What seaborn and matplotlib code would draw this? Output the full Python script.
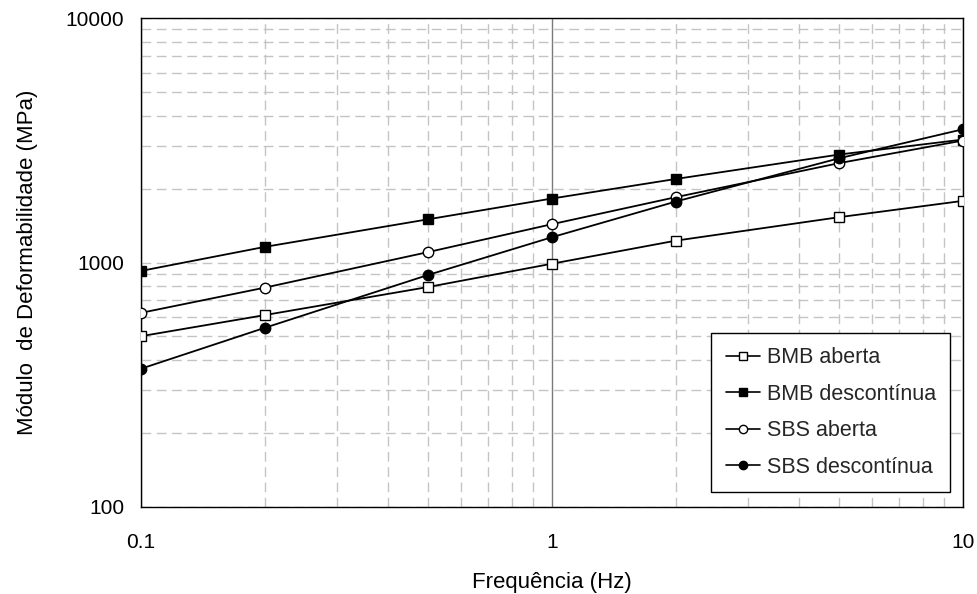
import matplotlib
matplotlib.use("Agg")
import matplotlib.pyplot as plt
import seaborn as sns
import numpy as np
import pandas as pd
from matplotlib.ticker import FixedLocator, NullFormatter

# Frequencies (Hz)
freq = [0.1, 0.2, 0.5, 1, 2, 5, 10]

# Deformability modulus (MPa) per mixture
bmb_aberta = [500, 610, 795, 990, 1230, 1535, 1790]
bmb_descontinua = [925, 1160, 1505, 1830, 2200, 2770, 3190]
sbs_aberta = [623, 790, 1105, 1437, 1853, 2555, 3160]
sbs_descontinua = [368, 541, 891, 1271, 1778, 2675, 3515]

series_names = ["BMB aberta", "BMB descontínua", "SBS aberta", "SBS descontínua"]
series_values = [bmb_aberta, bmb_descontinua, sbs_aberta, sbs_descontinua]
series_markers = ["s", "s", "o", "o"]
series_faces = ["white", "black", "white", "black"]

x_ticks = [0.1, 1, 10]
x_ticklabels = ["0.1", "1", "10"]
y_ticks = [100, 1000, 10000]
y_ticklabels = ["100", "1000", "10000"]

sns.set_style("white")
plt.rcParams["font.family"] = ["Liberation Sans", "DejaVu Sans"]

fig = plt.figure(figsize=(9.78, 5.94), dpi=100)
ax = fig.add_axes([0.1442, 0.1465, 0.8405, 0.8227])

df = pd.DataFrame({
    "freq": np.tile(freq, len(series_names)),
    "value": np.concatenate(series_values),
    "serie": np.repeat(series_names, len(freq)),
})

for name, mk, fc in zip(series_names, series_markers, series_faces):
    sub = df[df["serie"] == name]
    sns.lineplot(data=sub, x="freq", y="value", ax=ax, color="black",
                 linewidth=1.3, marker=mk, markersize=7.5,
                 markerfacecolor=fc, markeredgecolor="black",
                 markeredgewidth=1.0, label=name, zorder=5)

ax.set_xscale("log")
ax.set_yscale("log")
ax.set_xlim(0.1, 10)
ax.set_ylim(100, 10000)

ax.xaxis.set_major_locator(FixedLocator(x_ticks))
ax.set_xticklabels(x_ticklabels)
ax.yaxis.set_major_locator(FixedLocator(y_ticks))
ax.set_yticklabels(y_ticklabels)

x_minor = [m * d for d in (0.1, 1) for m in range(2, 10)]
y_minor = [m * d for d in (100, 1000) for m in range(2, 10)]
ax.xaxis.set_minor_locator(FixedLocator(x_minor))
ax.yaxis.set_minor_locator(FixedLocator(y_minor))
ax.xaxis.set_minor_formatter(NullFormatter())
ax.yaxis.set_minor_formatter(NullFormatter())

# Grid: dashed light grey for minor lines and the horizontal major line,
# solid grey for the vertical major line
dash = dict(color="#c4c4c4", linewidth=1.0, linestyle=(0, (7, 4)))
ax.grid(False)
ax.grid(True, which="minor", axis="both", **dash)
ax.grid(True, which="major", axis="y", **dash)
ax.grid(True, which="major", axis="x", color="#7a7a7a", linewidth=1.0,
        linestyle="-")
ax.set_axisbelow(True)

ax.tick_params(which="major", direction="out", length=5, width=1,
               color="black", labelsize=15, pad=7, labelcolor="black")
ax.tick_params(axis="x", which="major", pad=14)
ax.tick_params(which="minor", length=0)

for sp in ax.spines.values():
    sp.set_visible(True)
    sp.set_color("black")
    sp.set_linewidth(1.0)

ax.set_xlabel("Frequência (Hz)", fontsize=16, labelpad=14, color="black")
ax.set_ylabel("Módulo  de Deformabilidade (MPa)", fontsize=16,
              labelpad=20, color="black")

leg = ax.legend(loc="lower right", bbox_to_anchor=(0.984, 0.031),
                borderaxespad=0, frameon=True, fancybox=False, shadow=False,
                fontsize=15.5, markerscale=0.8, handlelength=1.6,
                handletextpad=0.3, labelspacing=0.72, borderpad=0.66)
leg.get_frame().set_edgecolor("black")
leg.get_frame().set_linewidth(1.0)
leg.get_frame().set_facecolor("white")
leg.get_frame().set_alpha(1)
for line in leg.get_lines():
    line.set_linewidth(1.2)

fig.savefig("out.png", dpi=100)
